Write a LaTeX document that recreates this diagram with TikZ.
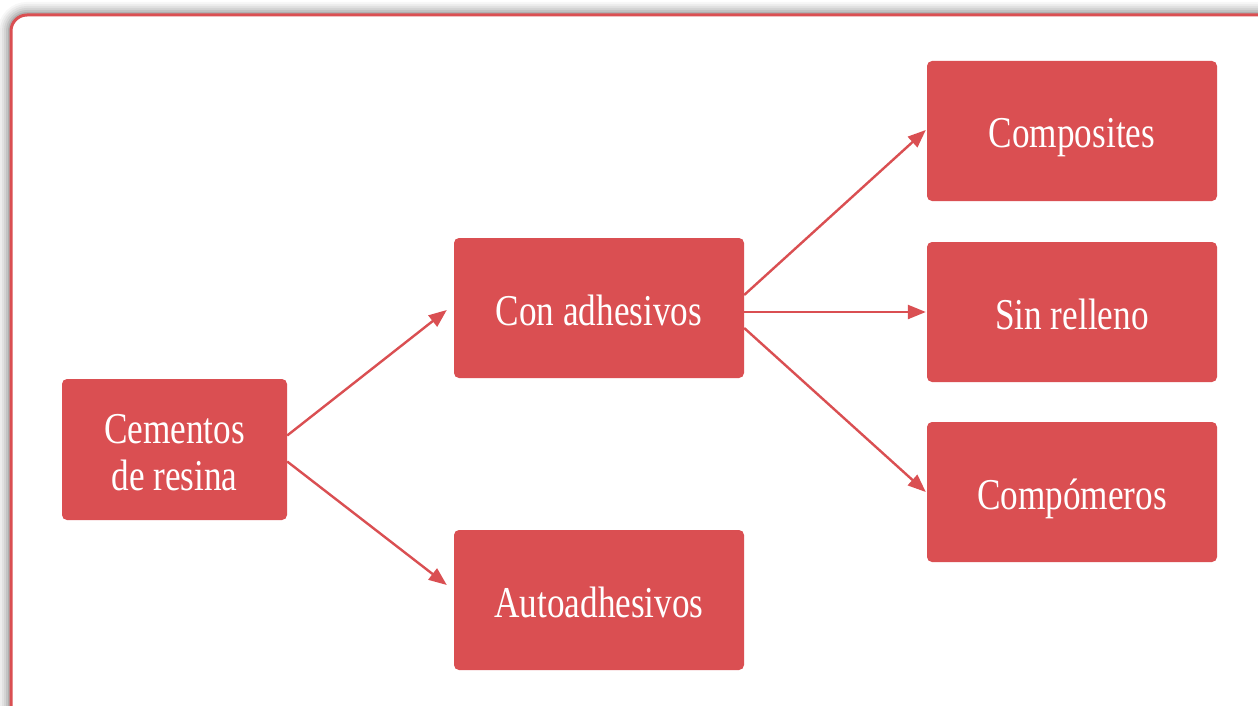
\documentclass[tikz,border=0pt]{standalone}
\usepackage{fontspec}
\setmainfont{Liberation Serif}[FakeStretch=0.8]
\usetikzlibrary{arrows.meta,calc}
\definecolor{boxred}{RGB}{218,79,82}
\begin{document}
\begin{tikzpicture}[x=1pt,y=-1pt,
  box/.style={fill=boxred,draw=none,rounded corners=5pt,minimum width=290pt,minimum height=140pt,
    text=white,font=\fontsize{44}{47}\selectfont,align=center,inner sep=0pt,
    text height=40pt,text depth=6pt},
  conn/.style={draw=boxred,line width=2.4pt,-{Triangle[length=18pt,width=14pt]}}]
\useasboundingbox (0,0) rectangle (1258,706);
% frame shadow
\foreach \w/\o in {26/0.03,22/0.04,18/0.05,14/0.06,10/0.08,6/0.10}{
  \draw[line width=\w pt,black,opacity=\o,rounded corners=16pt] (11,15) rectangle (1275,725);
}
\fill[white,rounded corners=16pt] (11,15) rectangle (1275,725);
\draw[boxred,line width=3pt,rounded corners=16pt] (11,15) rectangle (1275,725);
% nodes
\node[box,minimum width=225pt,minimum height=141pt,text height=87pt] (cem) at (174.5,449.5) {Cementos\\de resina};
\node[box] (con) at (599,308) {Con adhesivos};
\node[box] (auto) at (599,600) {Autoadhesivos};
\node[box] (comp) at (1072,131) {Composites};
\node[box] (sin) at (1072,312) {Sin relleno};
\node[box] (cmp) at (1072,492) {Compómeros};
% endpoints
\coordinate (c1) at ($(cem.east)+(0,-14)$);
\coordinate (c2) at ($(cem.east)+(0,12)$);
\coordinate (a1) at ($(con.west)+(-7,2)$);
\coordinate (a2) at ($(auto.west)+(-7,-15)$);
\coordinate (d1) at ($(con.east)+(0,-13)$);
\coordinate (d2) at ($(con.east)+(0,4)$);
\coordinate (d3) at ($(con.east)+(0,20)$);
\coordinate (e1) at ($(comp.west)+(-1,-1)$);
\coordinate (e2) at ($(sin.west)+(-1,0)$);
\coordinate (e3) at ($(cmp.west)+(-1,0)$);
\draw[conn] (c1) -- (a1);
\draw[conn] (c2) -- (a2);
\draw[conn] (d1) -- (e1);
\draw[conn] (d2) -- (e2);
\draw[conn] (d3) -- (e3);
\end{tikzpicture}
\end{document}
